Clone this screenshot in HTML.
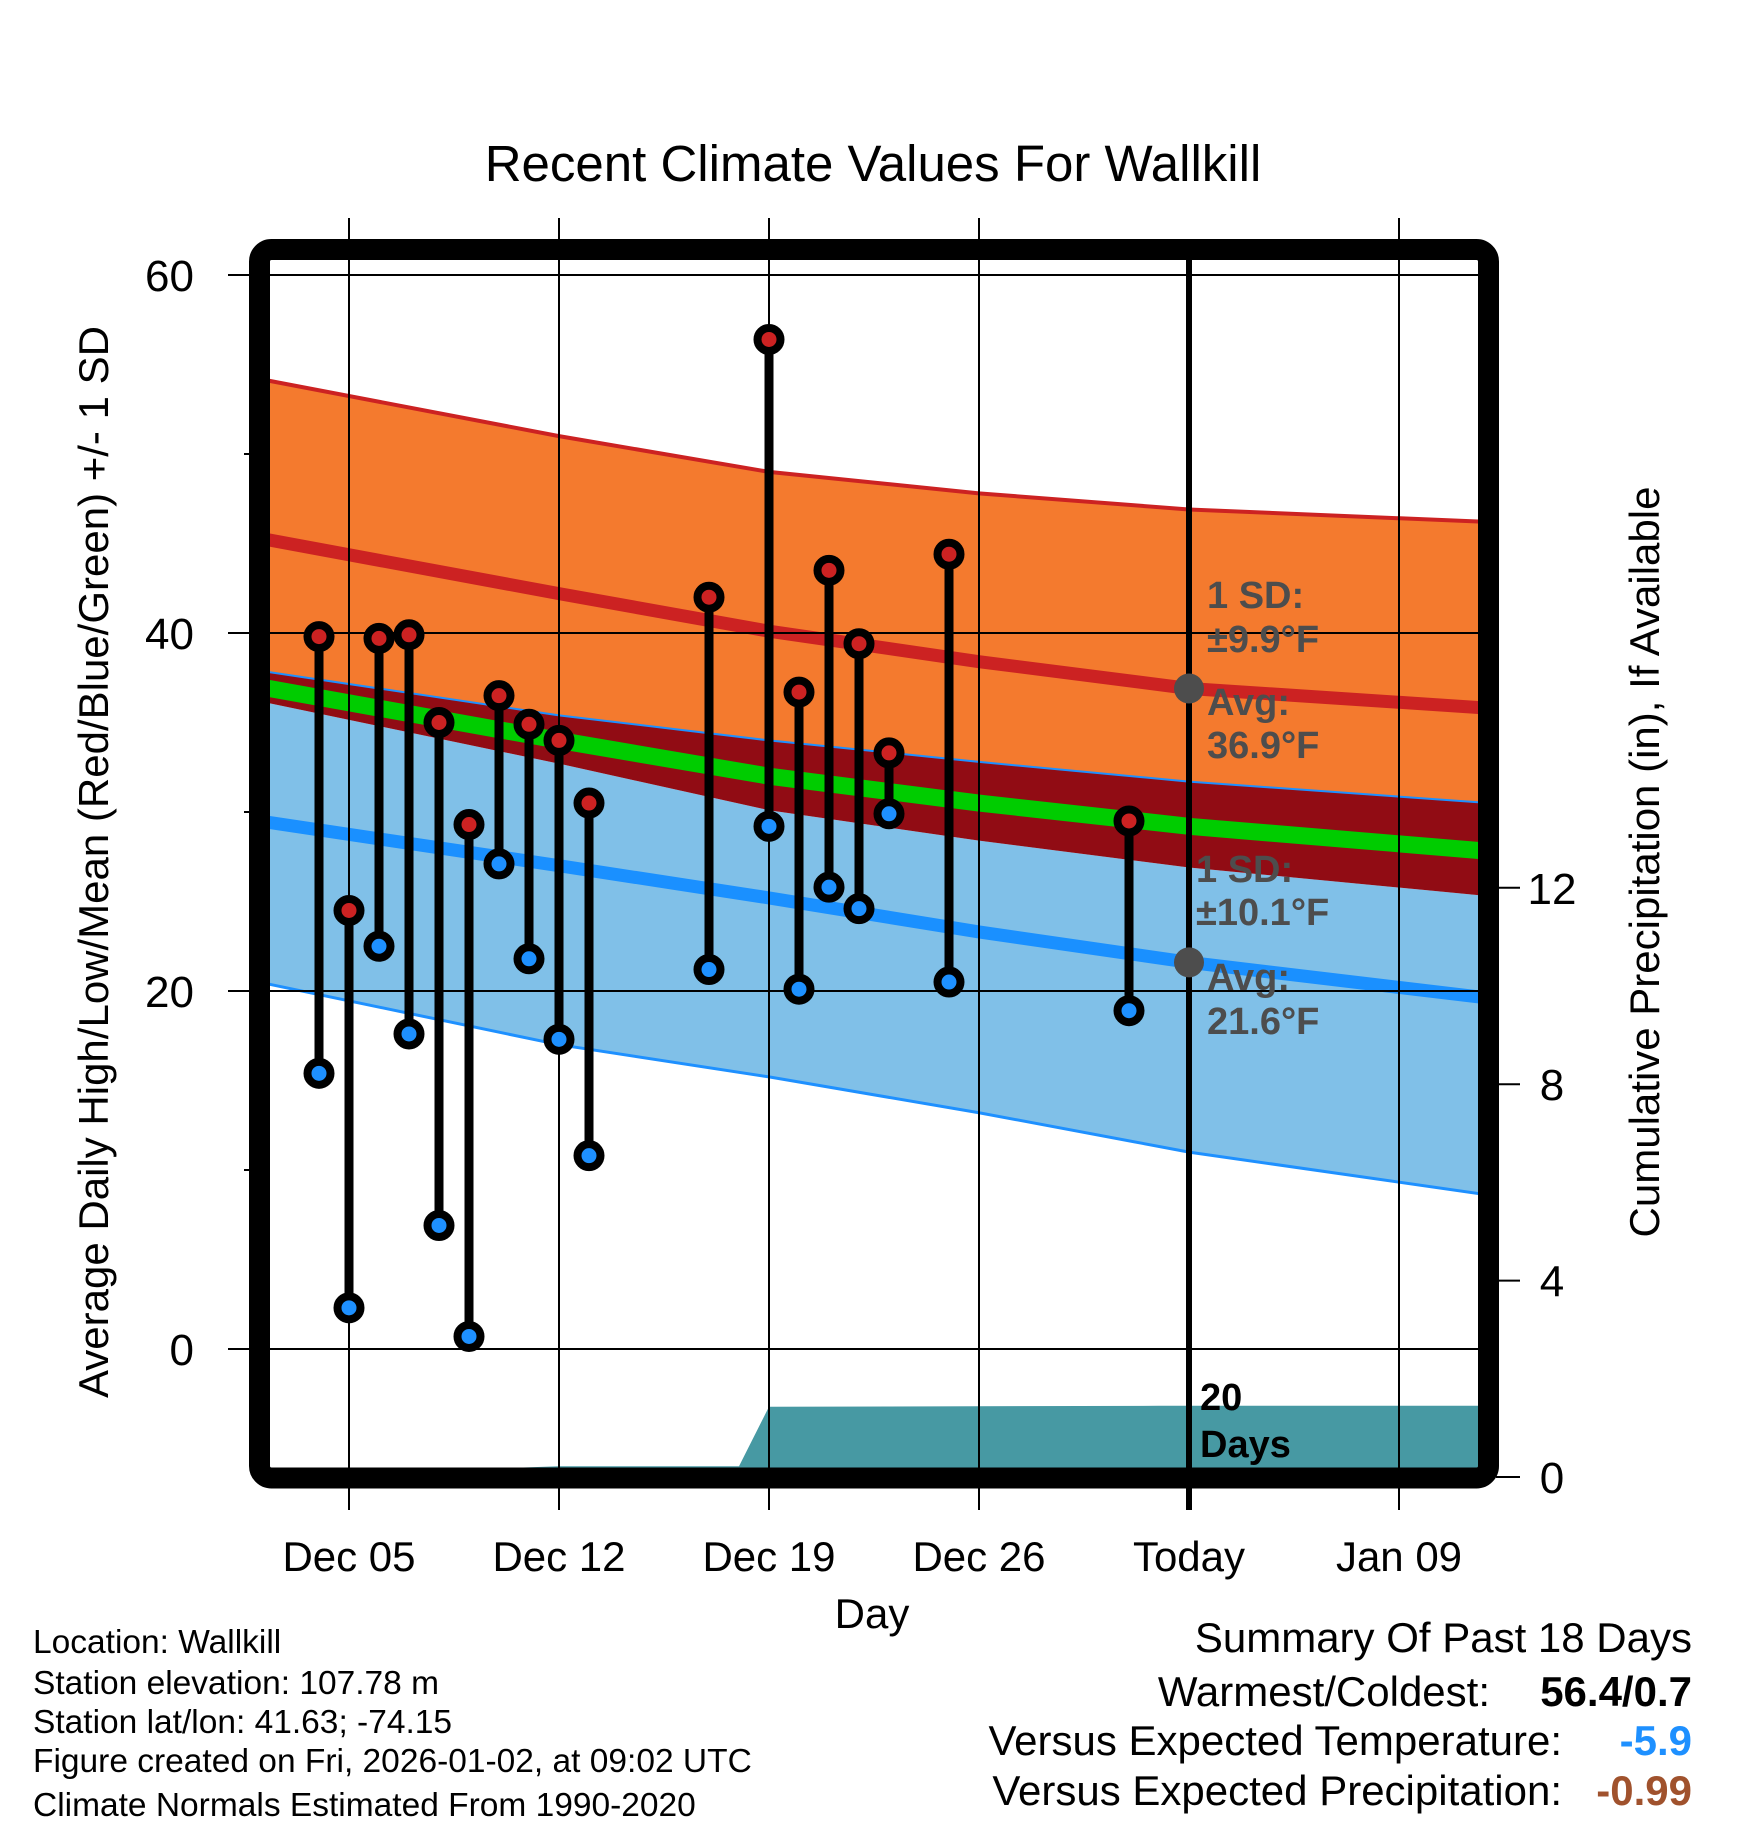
<!DOCTYPE html>
<html><head><meta charset="utf-8"><style>
body{margin:0;background:#fff}
svg{display:block;font-family:"Liberation Sans",sans-serif}
</style></head><body>
<svg width="1748" height="1828" viewBox="0 0 1748 1828" xmlns="http://www.w3.org/2000/svg">
<defs><clipPath id="pc"><rect x="270" y="260" width="1208" height="1208"/></clipPath></defs>
<text x="873" y="181" font-size="51" text-anchor="middle">Recent Climate Values For Wallkill</text>
<g id="bands" clip-path="url(#pc)"></g>
<g id="grid"></g>
<g id="marks"></g>
<rect x="259.5" y="249.5" width="1229" height="1228.5" rx="12" fill="none" stroke="#000" stroke-width="21"/>
<g id="labels"></g>
<text transform="translate(108,862) rotate(-90)" font-size="42" text-anchor="middle">Average Daily High/Low/Mean (Red/Blue/Green) +/- 1 SD</text>
<text transform="translate(1659,862) rotate(-90)" font-size="42" text-anchor="middle">Cumulative Precipitation (in), If Available</text>
<text x="872" y="1628" font-size="42" text-anchor="middle">Day</text>
<g font-size="33.5">
<text x="33" y="1653">Location: Wallkill</text>
<text x="33" y="1694">Station elevation: 107.78 m</text>
<text x="33" y="1733">Station lat/lon: 41.63; -74.15</text>
<text x="33" y="1772">Figure created on Fri, 2026-01-02, at 09:02 UTC</text>
<text x="33" y="1816">Climate Normals Estimated From 1990-2020</text>
</g>
<g font-size="42">
<text x="1692" y="1652" text-anchor="end">Summary Of Past 18 Days</text>
<text x="1490" y="1706" text-anchor="end">Warmest/Coldest:</text>
<text x="1692" y="1706" text-anchor="end" font-weight="bold">56.4/0.7</text>
<text x="1562" y="1755" text-anchor="end">Versus Expected Temperature:</text>
<text x="1692" y="1755" text-anchor="end" font-weight="bold" fill="#1e90ff">-5.9</text>
<text x="1562" y="1805" text-anchor="end">Versus Expected Precipitation:</text>
<text x="1692" y="1805" text-anchor="end" font-weight="bold" fill="#a0522d">-0.99</text>
</g>
<script>
const climDays=[2,12,19,26,33,43];
const highPlusSD=[54.2,51.0,49.0,47.8,46.9,46.2];
const highNorm=[45.3,42.2,40.1,38.4,36.9,35.8];
const highMinusSD=[37.9,35.4,34.0,32.8,31.7,30.5];
const meanNorm=[37.0,34.0,32.0,30.5,29.2,27.8];
const lowPlusSD=[36.2,32.7,30.1,28.4,26.9,25.3];
const lowNorm=[29.5,27.0,25.2,23.3,21.6,19.6];
const lowMinusSD=[20.5,17.0,15.2,13.2,11.0,8.6];
const obsDays=[4,5,6,7,8,9,10,11,12,13,17,19,20,21,22,23,25,31];
const obsHigh=[39.8,24.5,39.7,39.9,35.0,29.3,36.5,34.9,34.0,30.5,42.0,56.4,36.7,43.5,39.4,33.3,44.4,29.5];
const obsLow=[15.4,2.3,22.5,17.6,6.9,0.7,27.1,21.8,17.3,10.8,21.2,29.2,20.1,25.8,24.6,29.9,20.5,18.9];
const precipDays=[2,12,18,19,32,43];
const precipVals=[0,0.22,0.22,1.43,1.45,1.45];
const yTicks=[0,20,40,60];
const yMinor=[10,30,50];
const y2Ticks=[0,4,8,12];
const xTickDays=[5,12,19,26,33,40];
const xTickLabels=["Dec 05","Dec 12","Dec 19","Dec 26","Today","Jan 09"];
const todayDay=33;
const NS="http://www.w3.org/2000/svg";
const X=d=>349+(d-5)*30;
const Y=v=>1349-v*17.9;
const P=v=>1477-v*49.1;
function mk(tag,attrs,parent){const e=document.createElementNS(NS,tag);for(const k in attrs)e.setAttribute(k,attrs[k]);document.getElementById(parent).appendChild(e);return e;}
function pts(days,vals,f){return days.map((d,i)=>X(d)+","+f(vals[i])).join(" ");}
function band(upper,lower,fill,name){
  const p=pts(climDays,upper,Y)+" "+pts(climDays.slice().reverse(),lower.slice().reverse(),Y);
  const e=mk('polygon',{points:p,fill:fill},'bands');
  
  
}
function line(vals,color,w,name){
  const e=mk('polyline',{points:pts(climDays,vals,Y),fill:'none',stroke:color,'stroke-width':w},'bands');
  
  
}
band(highPlusSD,highMinusSD,'#f47a2e','high-sd-band');
band(lowPlusSD,lowMinusSD,'#80c0e8','low-sd-band');
band(highMinusSD,lowPlusSD,'#910c14','overlap-band');
line(highPlusSD,'#cc2222',4,'high-plus-sd-line');
line(highMinusSD,'#1e90ff',2,'high-minus-sd-line');
line(lowMinusSD,'#1e90ff',3,'low-minus-sd-line');
line(highNorm,'#cc2222',13,'normal-high-line');
line(lowNorm,'#1a90ff',13,'normal-low-line');
line(meanNorm,'#00cc00',17,'normal-mean-line');
{let p=X(precipDays[0])+","+P(0)+" "+pts(precipDays,precipVals,P)+" "+X(precipDays[precipDays.length-1])+","+P(0);
const e=mk('polygon',{points:p,fill:'#4799a3'},'bands');

}
yTicks.forEach(v=>{const e=mk('line',{x1:228,x2:1478,y1:Y(v),y2:Y(v),stroke:'#000','stroke-width':2},'grid');


const t=mk('text',{x:194,y:Y(v)+16,'font-size':44,'text-anchor':'end'},'labels');t.textContent=v;

});
yMinor.forEach(v=>{const e=mk('line',{x1:244,x2:252,y1:Y(v),y2:Y(v),stroke:'#000','stroke-width':2},'grid');

});
y2Ticks.forEach(v=>{const e=mk('line',{x1:1496,x2:1520,y1:P(v),y2:P(v),stroke:'#000','stroke-width':2},'grid');


const t=mk('text',{x:1552,y:P(v)+16,'font-size':44,'text-anchor':'middle'},'labels');t.textContent=v;

});
xTickDays.forEach((d,i)=>{const e=mk('line',{x1:X(d),x2:X(d),y1:218,y2:1510,stroke:'#000','stroke-width':d===todayDay?0:2},'grid');


const t=mk('text',{x:X(d),y:1571,'font-size':42,'text-anchor':'middle'},'labels');t.textContent=xTickLabels[i];

});
{const e=mk('line',{x1:X(todayDay),x2:X(todayDay),y1:260,y2:1510,stroke:'#000','stroke-width':6},'grid');

}
obsDays.forEach((d,i)=>{
  const s=mk('line',{x1:X(d),x2:X(d),y1:Y(obsHigh[i]),y2:Y(obsLow[i]),stroke:'#000','stroke-width':9},'marks');
  
  
  const h=mk('circle',{cx:X(d),cy:Y(obsHigh[i]),r:11.5,fill:'#cc2222',stroke:'#000','stroke-width':8},'marks');
  
  
  const l=mk('circle',{cx:X(d),cy:Y(obsLow[i]),r:11.5,fill:'#1e90ff',stroke:'#000','stroke-width':8},'marks');
  
  
});
[[highNorm,'today-high-marker'],[lowNorm,'today-low-marker']].forEach(([arr,n])=>{
  const c=mk('circle',{cx:X(todayDay),cy:Y(arr[4]),r:15,fill:'#4d4d4d'},'marks');
  
  
});
const ann=[[1207,608,'1 SD:'],[1207,652,'±9.9°F'],[1207,715,'Avg:'],[1207,758,'36.9°F'],[1196,882,'1 SD:'],[1196,925,'±10.1°F'],[1207,990,'Avg:'],[1207,1034,'21.6°F']];
ann.forEach(a=>{const t=mk('text',{x:a[0],y:a[1],'font-size':38,'font-weight':'bold',fill:'#4d4d4d'},'marks');t.textContent=a[2];

});
[[1200,1410,'20'],[1200,1457,'Days']].forEach(a=>{const t=mk('text',{x:a[0],y:a[1],'font-size':38,'font-weight':'bold',fill:'#000'},'marks');t.textContent=a[2];

});
</script>
</svg>
</body></html>
